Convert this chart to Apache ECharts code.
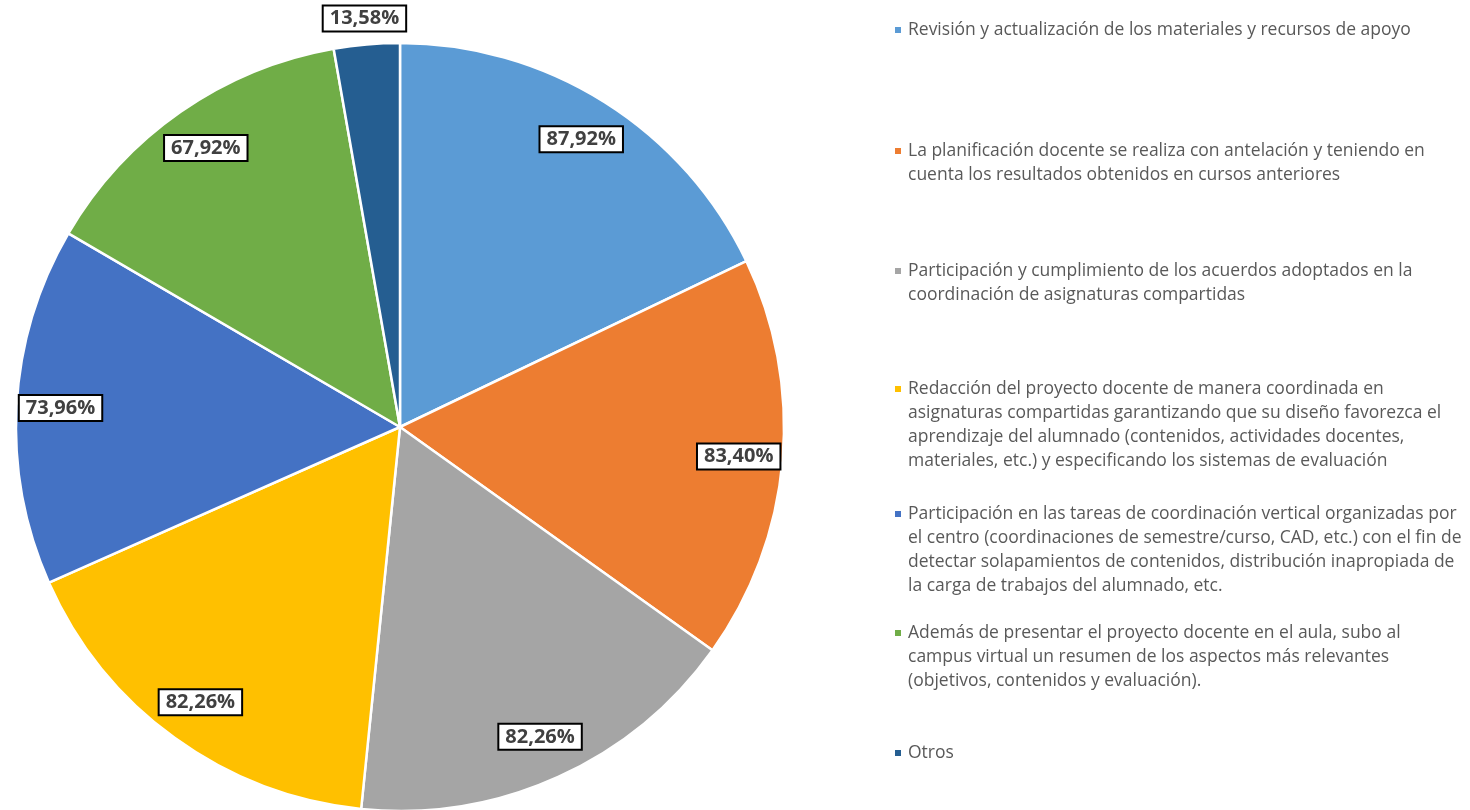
<!DOCTYPE html>
<html>
<head>
<meta charset="utf-8">
<script src="https://cdn.jsdelivr.net/npm/echarts@6/dist/echarts.min.js"></script>
<style>
html, body { margin: 0; padding: 0; background: #fff; }
#chart { width: 1470px; height: 810px; }
</style>
</head>
<body>
<div id="chart"></div>
<script>
// categorias (nombre completo) y su texto partido en lineas como en la leyenda original
let names = [
    'Revisión y actualización de los materiales y recursos de apoyo',
    'La planificación docente se realiza con antelación y teniendo en cuenta los resultados obtenidos en cursos anteriores',
    'Participación y cumplimiento de los acuerdos adoptados en la coordinación de asignaturas compartidas',
    'Redacción del proyecto docente de manera coordinada en asignaturas compartidas garantizando que su diseño favorezca el aprendizaje del alumnado (contenidos, actividades docentes, materiales, etc.) y especificando los sistemas de evaluación',
    'Participación en las tareas de coordinación vertical organizadas por el centro (coordinaciones de semestre/curso, CAD, etc.) con el fin de detectar solapamientos de contenidos, distribución inapropiada de la carga de trabajos del alumnado, etc.',
    'Además de presentar el proyecto docente en el aula, subo al campus virtual un resumen de los aspectos más relevantes (objetivos, contenidos y evaluación).',
    'Otros'
]
let legendLines = [
    ['Revisión y actualización de los materiales y recursos de apoyo'],
    ['La planificación docente se realiza con antelación y teniendo en',
     'cuenta los resultados obtenidos en cursos anteriores'],
    ['Participación y cumplimiento de los acuerdos adoptados en la',
     'coordinación de asignaturas compartidas'],
    ['Redacción del proyecto docente de manera coordinada en',
     'asignaturas compartidas garantizando que su diseño favorezca el',
     'aprendizaje del alumnado (contenidos, actividades docentes,',
     'materiales, etc.) y especificando los sistemas de evaluación'],
    ['Participación en las tareas de coordinación vertical organizadas por',
     'el centro (coordinaciones de semestre/curso, CAD, etc.) con el fin de',
     'detectar solapamientos de contenidos, distribución inapropiada de',
     'la carga de trabajos del alumnado, etc.'],
    ['Además de presentar el proyecto docente en el aula, subo al',
     'campus virtual un resumen de los aspectos más relevantes',
     '(objetivos, contenidos y evaluación).'],
    ['Otros']
]
let values = [87.92, 83.40, 82.26, 82.26, 73.96, 67.92, 13.58]
let colors = ['#5B9BD5', '#ED7D31', '#A5A5A5', '#FFC000', '#4472C4', '#70AD47', '#255E91']

let center = [400, 427]
let R = 384
let lineH = 24
let legendFirstY = [30, 151, 271, 389, 514, 633, 753] // centro de la primera linea de cada entrada

let fmt = (p) => p.value.toFixed(2).replace('.', ',') + '%'

let boxLabel = {
    show: true,
    position: 'inside',
    formatter: fmt,
    fontFamily: 'Open Sans',
    fontWeight: 'bold',
    fontSize: 20,
    color: '#404040',
    backgroundColor: '#fff',
    borderColor: '#000',
    borderWidth: 2,
    padding: [3, 6, 1, 6]
}

// leyendas: una por entrada para repartirlas igual que en Excel
// (lineas vacias delante para que el icono quede a la altura de la primera linea)
let legends = names.map((n, i) => {
    let nLines = legendLines[i].length
    let txt = new Array(nLines - 1).fill(' ').concat(legendLines[i])
    return {
        orient: 'vertical',
        left: 893,
        top: legendFirstY[i] - (2 * nLines - 1) * lineH / 2,
        padding: 0,
        data: [n],
        icon: 'rect',
        itemWidth: 8,
        itemHeight: 8,
        selectedMode: false,
        formatter: () => txt.join('\n'),
        textStyle: {
            fontFamily: 'Open Sans',
            fontSize: 17.5,
            color: '#595959',
            lineHeight: lineH,
            padding: [0, 0, 0, 1]
        }
    }
})

let option = {
    animation: false,
    color: colors,
    legend: legends,
    series: [
        {
            name: 'sectores',
            type: 'pie',
            center: center,
            radius: [0, R],
            startAngle: 90,
            clockwise: true,
            label: { show: false },
            labelLine: { show: false },
            itemStyle: { borderColor: '#fff', borderWidth: 2.5 },
            emphasis: { disabled: true },
            data: names.map((n, i) => ({ name: n, value: values[i] }))
        },
        {
            // capa transparente solo para colocar las etiquetas cerca del borde
            name: 'etiquetas',
            type: 'pie',
            silent: true,
            center: center,
            radius: [290, R],
            startAngle: 90,
            clockwise: true,
            itemStyle: { color: 'transparent', borderWidth: 0 },
            label: boxLabel,
            labelLine: { show: false },
            emphasis: { disabled: true },
            data: names.map((n, i) => ({ name: n, value: values[i], label: { show: i < 6 } }))
        },
        {
            // etiqueta de "Otros", fuera del circulo
            name: 'etiquetaFuera',
            type: 'pie',
            silent: true,
            center: center,
            radius: [R, 430],
            startAngle: 90,
            clockwise: true,
            itemStyle: { color: 'transparent', borderWidth: 0 },
            label: boxLabel,
            labelLine: { show: false },
            emphasis: { disabled: true },
            data: names.map((n, i) => ({ name: n, value: values[i], label: { show: i === 6 } }))
        }
    ]
}

let chart = echarts.init(document.getElementById('chart'))
chart.setOption(option)
window.addEventListener('resize', () => {
    chart.resize()
})
</script>
</body>
</html>
